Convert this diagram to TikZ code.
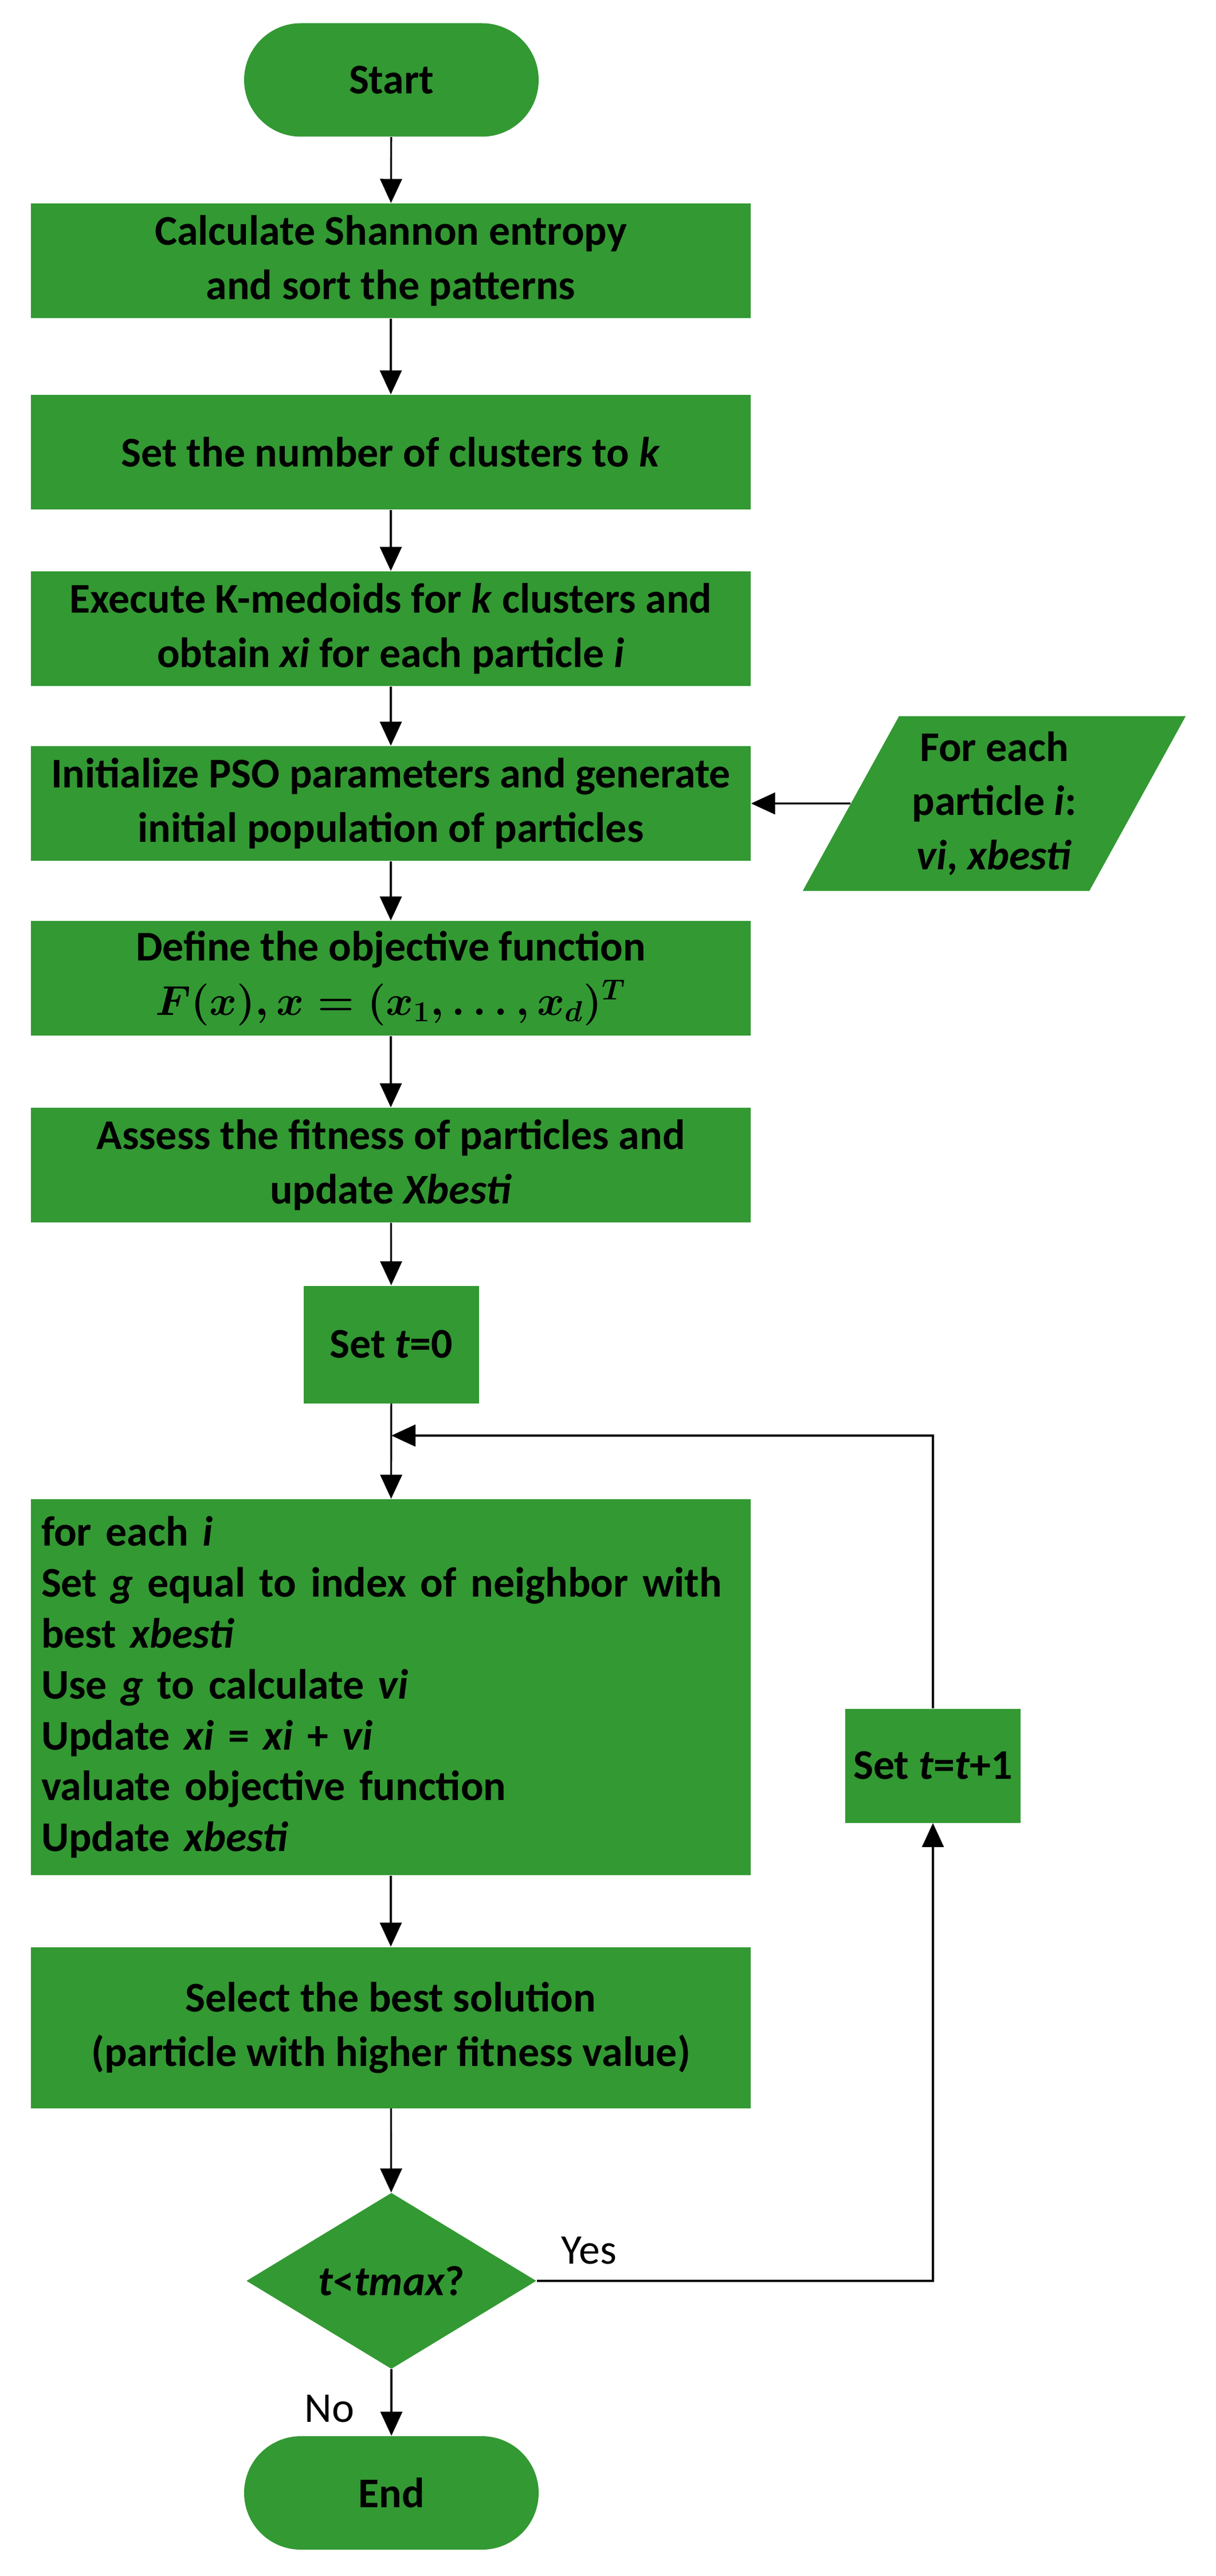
\documentclass[tikz,border=0pt]{standalone}
\usepackage{fontspec}
\setmainfont{Carlito}
\usetikzlibrary{shapes.geometric,arrows.meta}

\definecolor{leaf}{HTML}{339933}

\tikzset{
  box/.style={fill=leaf,minimum width=12.56cm,minimum height=2.0cm,align=center,font=\fontsize{21}{27}\selectfont\bfseries},
  term/.style={box,minimum width=5.14cm,minimum height=1.98cm,rounded corners=0.99cm},
  flow/.style={-{Triangle[width=0.38cm,length=0.42cm]},line width=0.9pt}
}

\begin{document}
\begin{tikzpicture}
\useasboundingbox (0,0) rectangle (21.22,-44.95);

\node[term] (start) at (6.83,-1.395) {Start};
\node[box] (entropy) at (6.82,-4.55) {Calculate Shannon entropy\\and sort the patterns};
\node[box] (clusters) at (6.82,-7.89) {Set the number of clusters to \textit{k}};
\node[box] (medoids) at (6.82,-10.97) {Execute K-medoids for \textit{k} clusters and\\obtain \textit{xi} for each particle \textit{i}};
\node[box] (init) at (6.82,-14.02) {Initialize PSO parameters and generate\\initial population of particles};
\node[box] (objective) at (6.82,-17.07) {Define the objective function\\{\boldmath$F(x), x=(x_1,\dots,x_d)^T$}};
\node[box] (fitness) at (6.82,-20.33) {Assess the fitness of particles and\\update \textit{Xbesti}};
\node[box,minimum width=3.06cm,minimum height=2.05cm] (tzero) at (6.83,-23.46) {Set \textit{t}=0};
\node[box,minimum height=6.56cm,align=left,text width=12.2cm,inner sep=0.18cm,font=\fontsize{21}{25.3}\selectfont\bfseries] (update) at (6.82,-29.44)
  {for each \textit{i}\\Set \textit{g} equal to index of neighbor with\\best \textit{xbesti}\\Use \textit{g} to calculate \textit{vi}\\Update \textit{xi} = \textit{xi} + \textit{vi}\\valuate objective function\\Update \textit{xbesti}};
\node[box,minimum height=2.81cm] (select) at (6.82,-35.38) {Select the best solution\\(particle with higher fitness value)};
\node[box,shape=diamond,minimum width=5.06cm,minimum height=3.04cm,inner sep=0pt] (check) at (6.83,-39.8) {\textit{t}<\textit{tmax}?};
\node[term] (end) at (6.83,-43.5) {End};
\node[box,minimum width=3.06cm,minimum height=1.99cm] (tnext) at (16.28,-30.81) {Set \textit{t}=\textit{t}+1};
\node[box,shape=trapezium,trapezium left angle=60,trapezium right angle=120,trapezium stretches=true,minimum width=6.7cm,minimum height=3.05cm,inner sep=0pt] (each) at (17.35,-14.02) {For each\\particle \textit{i}:\\\textit{vi}, \textit{xbesti}};

\coordinate (loopin) at (6.83,-25.05);
\coordinate (loopcorner) at (16.28,-25.05);
\coordinate (yescorner) at (16.28,-39.8);

\foreach \a/\b in {start/entropy,entropy/clusters,clusters/medoids,medoids/init,init/objective,objective/fitness,fitness/tzero,tzero/update,update/select,select/check,check/end}
  \draw[flow] (\a) -- (\b);

\draw[flow] (each) -- (init);
\draw[flow] (check.east) -- (yescorner) -- (tnext.south);
\draw[flow] (tnext.north) -- (loopcorner) -- (loopin);

\node[font=\fontsize{21}{27}\selectfont] (yes) at (10.28,-39.27) {Yes};
\node[font=\fontsize{21}{27}\selectfont] (no) at (5.75,-42.03) {No};
\end{tikzpicture}
\end{document}
